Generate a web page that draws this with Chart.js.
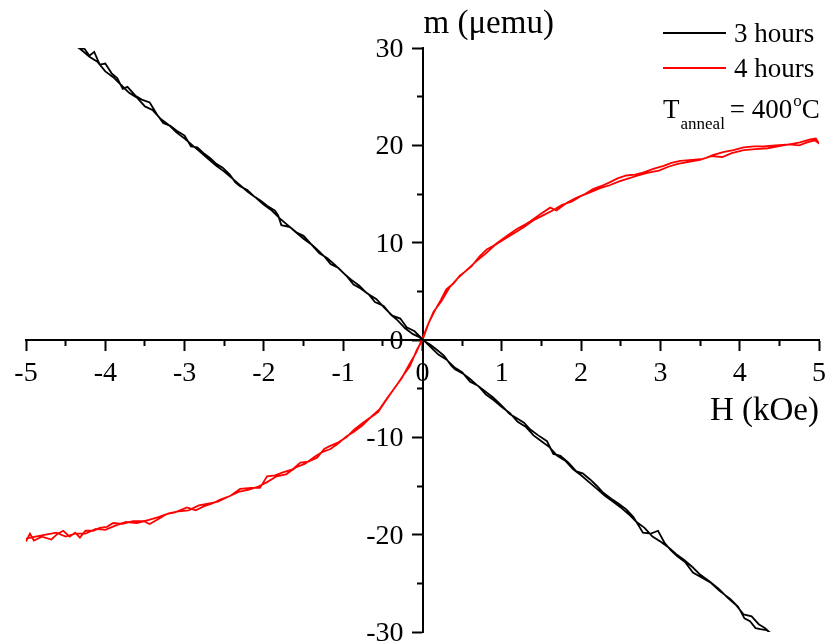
<!DOCTYPE html>
<html>
<head>
<meta charset="utf-8">
<script src="https://cdn.jsdelivr.net/npm/chart.js@4"></script>
<style>
html,body{margin:0;padding:0;background:#fff;}
#wrap{width:825px;height:644px;position:relative;}
</style>
</head>
<body>
<div id="wrap"><canvas id="c"></canvas></div>
<script>
// ---- data ----
const seriesNames = ['3 hours', '4 hours'];
const xTicks = [-5, -4, -3, -2, -1, 0, 1, 2, 3, 4, 5];
const yTicks = [-30, -20, -10, 0, 10, 20, 30];

// 3 hours: field sweep out and back (H in kOe)
const h3 = [-4.40,-4.33,-4.26,-4.20,-4.14,-4.07,-4.00,-3.92,-3.85,-3.78,-3.72,-3.62,-3.54,-3.44,-3.35,-3.27,-3.18,-3.10,-3.00,-2.92,-2.84,-2.76,-2.68,-2.60,-2.52,-2.43,-2.36,-2.30,-2.21,-2.13,-2.04,-1.96,-1.86,-1.82,-1.78,-1.67,-1.58,-1.50,-1.41,-1.33,-1.24,-1.16,-1.06,-0.96,-0.87,-0.78,-0.68,-0.60,-0.49,-0.40,-0.31,-0.22,-0.12,-0.04,0.00,0.10,0.18,0.27,0.36,0.41,0.50,0.60,0.68,0.78,0.89,0.98,1.10,1.20,1.28,1.36,1.46,1.57,1.65,1.74,1.84,1.94,2.02,2.11,2.20,2.28,2.38,2.47,2.57,2.66,2.78,2.88,2.97,3.05,3.13,3.21,3.31,3.41,3.52,3.63,3.75,3.88,3.98,4.06,4.13,4.20,4.26,4.34,4.40,
  4.32,4.24,4.15,4.05,3.95,3.85,3.74,3.62,3.50,3.40,3.30,3.20,3.10,3.00,2.90,2.80,2.70,2.60,2.50,2.40,2.30,2.20,2.10,2.00,1.90,1.80,1.70,1.60,1.50,1.40,1.30,1.20,1.10,1.00,0.90,0.80,0.70,0.60,0.50,0.40,0.30,0.20,0.10,0.00,-0.10,-0.20,-0.28,-0.38,-0.48,-0.58,-0.70,-0.80,-0.90,-1.00,-1.10,-1.20,-1.30,-1.40,-1.50,-1.60,-1.70,-1.80,-1.90,-2.00,-2.10,-2.20,-2.30,-2.40,-2.50,-2.60,-2.70,-2.80,-2.90,-3.00,-3.10,-3.20,-3.30,-3.40,-3.50,-3.60,-3.70,-3.80,-3.90,-4.00,-4.10,-4.20,-4.30,-4.40];
const m3 = [30.3,30.0,29.9,29.2,29.6,28.3,28.4,27.4,26.9,25.8,26.0,25.1,24.7,24.4,23.2,22.3,22.0,21.5,21.0,19.9,19.8,19.2,18.7,18.1,17.7,17.0,16.2,15.8,15.4,14.8,14.3,13.8,13.3,12.8,11.8,11.6,11.0,10.7,9.9,9.3,8.6,7.8,7.4,6.6,5.7,5.3,4.7,3.9,3.5,2.6,2.0,1.2,0.6,0.3,0.0,-0.5,-1.0,-1.6,-2.6,-3.0,-3.4,-4.0,-4.6,-5.2,-5.9,-6.6,-7.6,-8.1,-8.5,-9.2,-9.8,-10.4,-11.7,-11.9,-12.6,-13.5,-13.7,-14.3,-15.0,-15.7,-16.3,-16.8,-17.4,-18.2,-19.8,-19.9,-19.6,-20.8,-21.6,-22.2,-22.8,-23.9,-24.4,-24.9,-25.8,-26.6,-27.4,-28.6,-28.9,-29.6,-29.7,-29.8,-30.2,
  -29.6,-29.2,-28.4,-28.2,-27.2,-26.5,-25.6,-24.8,-24.1,-23.3,-22.6,-22.0,-21.3,-20.7,-20.2,-19.3,-18.7,-17.9,-17.2,-16.6,-16.0,-15.3,-14.6,-13.9,-13.3,-12.4,-11.9,-11.0,-10.4,-9.8,-8.9,-8.4,-7.5,-6.9,-6.2,-5.6,-4.7,-4.3,-3.3,-2.8,-2.0,-1.5,-0.7,0.1,0.9,1.3,2.2,2.5,3.3,4.2,4.8,5.6,6.2,6.9,7.7,8.4,8.9,9.8,10.4,11.1,11.8,12.5,13.3,13.9,14.6,15.2,15.9,16.6,17.3,17.9,18.6,19.3,20.0,20.7,21.3,22.1,22.7,23.6,24.0,24.9,25.4,26.2,27.0,27.6,28.6,29.1,29.8,30.4];

// 4 hours: field sweep out and back (H in kOe)
const h4 = [-5.00,-4.95,-4.90,-4.80,-4.68,-4.60,-4.53,-4.45,-4.38,-4.32,-4.25,-4.15,-4.07,-3.98,-3.90,-3.78,-3.65,-3.52,-3.44,-3.33,-3.23,-3.12,-2.97,-2.86,-2.76,-2.65,-2.55,-2.42,-2.30,-2.16,-2.05,-1.96,-1.86,-1.76,-1.64,-1.54,-1.44,-1.33,-1.24,-1.17,-1.06,-0.96,-0.86,-0.75,-0.65,-0.54,-0.44,-0.33,-0.24,-0.16,-0.07,0.00,0.08,0.16,0.23,0.30,0.39,0.47,0.55,0.62,0.72,0.81,0.90,0.98,1.08,1.19,1.28,1.36,1.48,1.61,1.69,1.82,1.94,2.05,2.15,2.25,2.36,2.46,2.57,2.68,2.78,2.92,3.04,3.14,3.25,3.40,3.54,3.66,3.79,3.92,4.05,4.18,4.30,4.45,4.63,4.76,4.89,4.96,5.00,
  4.95,4.85,4.75,4.62,4.48,4.35,4.20,4.05,3.90,3.78,3.64,3.50,3.36,3.22,3.10,2.98,2.85,2.72,2.60,2.48,2.36,2.24,2.12,2.00,1.88,1.76,1.64,1.52,1.40,1.28,1.16,1.04,0.92,0.80,0.68,0.56,0.44,0.34,0.24,0.14,0.06,0.00,-0.08,-0.16,-0.26,-0.36,-0.46,-0.56,-0.66,-0.76,-0.86,-0.96,-1.06,-1.16,-1.26,-1.36,-1.48,-1.60,-1.72,-1.84,-1.96,-2.08,-2.20,-2.32,-2.45,-2.58,-2.70,-2.82,-2.95,-3.08,-3.20,-3.33,-3.46,-3.60,-3.74,-3.88,-4.00,-4.12,-4.25,-4.38,-4.50,-4.62,-4.75,-4.88,-5.00];
const m4 = [-20.7,-19.9,-20.6,-20.2,-20.5,-19.9,-19.6,-20.2,-19.8,-20.3,-19.6,-19.6,-19.3,-19.2,-18.8,-18.9,-18.6,-18.6,-18.9,-18.4,-17.9,-17.7,-17.2,-17.5,-17.1,-16.8,-16.4,-16.0,-15.3,-15.2,-15.2,-14.0,-13.9,-13.6,-13.3,-12.6,-12.5,-12.1,-11.2,-10.9,-10.5,-10.0,-9.2,-8.5,-7.9,-7.1,-5.9,-4.7,-3.6,-2.7,-1.0,0.0,1.8,3.1,4.1,5.2,5.8,6.6,7.1,7.6,8.6,9.3,9.7,10.2,10.8,11.4,11.8,12.2,12.9,13.6,13.3,14.1,14.6,15.0,15.5,15.8,16.2,16.6,16.9,17.0,17.2,17.6,17.9,18.2,18.4,18.5,18.6,19.0,19.3,19.5,19.8,19.9,19.9,20.0,20.1,20.3,20.6,20.7,20.2,
  20.5,20.3,20.0,20.1,19.9,19.7,19.6,19.5,19.2,18.8,18.9,18.5,18.3,18.1,17.8,17.4,17.2,16.9,16.6,16.3,15.9,15.6,15.2,14.8,14.2,13.9,13.3,12.8,12.3,11.6,11.0,10.4,9.8,8.9,8.1,7.2,6.3,5.4,4.0,2.9,1.4,0.2,-1.3,-2.4,-3.9,-5.0,-6.2,-7.4,-8.0,-8.8,-9.4,-9.9,-10.6,-11.2,-11.5,-12.0,-12.7,-13.1,-13.8,-14.0,-14.6,-15.1,-15.4,-15.6,-16.1,-16.6,-16.8,-17.0,-17.5,-17.6,-17.8,-18.2,-18.5,-18.8,-18.7,-19.1,-19.5,-19.4,-19.9,-19.9,-20.2,-19.8,-20.0,-20.2,-20.4];

const seriesColors = ['#000000', '#ff0000'];
const FONT = "'Liberation Serif', 'Times New Roman', serif";

function pts(hs, ms){ return hs.map((h,i)=>({x:h, y:ms[i]})); }

const overlay = {
  id: 'overlay',
  afterDraw(chart){
    const ctx = chart.ctx;
    const xs = chart.scales.x, ys = chart.scales.y;
    const ax = xs.getPixelForValue(0), ay = ys.getPixelForValue(0);
    ctx.save();
    ctx.fillStyle = '#000';
    ctx.textBaseline = 'alphabetic';
    // tick labels
    ctx.font = '28px ' + FONT;
    ctx.textAlign = 'center';
    xTicks.forEach(v => ctx.fillText(String(v), xs.getPixelForValue(v), ay + 41));
    ctx.textAlign = 'right';
    yTicks.forEach(v => ctx.fillText(String(v), ax - 19, ys.getPixelForValue(v) + 9));
    // axis titles
    ctx.font = '33px ' + FONT;
    ctx.textAlign = 'left';
    ctx.fillText('m (\u03bcemu)', ax + 1, 33);
    ctx.textAlign = 'right';
    ctx.fillText('H (kOe)', 819, 420);
    // legend
    ctx.font = '27px ' + FONT;
    ctx.textAlign = 'left';
    const rows = [33, 68];
    seriesNames.forEach((n, i) => {
      ctx.strokeStyle = seriesColors[i];
      ctx.lineWidth = 1.8;
      ctx.beginPath(); ctx.moveTo(663, rows[i]); ctx.lineTo(726, rows[i]); ctx.stroke();
      ctx.fillText(n, 734, rows[i] + 9);
    });
    // annotation
    let x = 663; const base = 118;
    ctx.font = '27px ' + FONT;
    ctx.fillText('T', x, base); x += ctx.measureText('T').width + 1;
    ctx.font = '17px ' + FONT;
    ctx.fillText('anneal', x, base + 11); x += ctx.measureText('anneal').width + 5;
    ctx.font = '27px ' + FONT;
    ctx.fillText('= 400', x, base); x += ctx.measureText('= 400').width + 1;
    ctx.font = '17px ' + FONT;
    ctx.fillText('o', x, base - 12); x += ctx.measureText('o').width;
    ctx.font = '27px ' + FONT;
    ctx.fillText('C', x, base);
    ctx.restore();
  }
};

const majorTick = (vals) => function(scale){ scale.ticks = vals.map(v => ({value: v})); };
const minorTick = (vals) => function(scale){
  const out = [];
  for (let i = 0; i < vals.length - 1; i++) out.push({value: (vals[i] + vals[i+1]) / 2});
  scale.ticks = out;
};

new Chart(document.getElementById('c'), {
  type: 'scatter',
  data: {
    datasets: [
      { label: seriesNames[0], data: pts(h3, m3), showLine: true, borderColor: seriesColors[0], borderWidth: 1.8, pointRadius: 0, tension: 0 },
      { label: seriesNames[1], data: pts(h4, m4), showLine: true, borderColor: seriesColors[1], borderWidth: 1.8, pointRadius: 0, tension: 0 }
    ]
  },
  options: {
    responsive: true,
    maintainAspectRatio: false,
    animation: false,
    layout: { padding: { left: 26, right: 6, top: 48, bottom: 12 } },
    plugins: { legend: { display: false }, tooltip: { enabled: false } },
    scales: {
      xm: {
        type: 'linear', axis: 'x', position: { y: 0 }, min: -5, max: 5,
        afterBuildTicks: minorTick(xTicks),
        grid: { drawOnChartArea: false, tickLength: 5, tickWidth: 2, color: '#000' },
        border: { color: '#000', width: 2 },
        ticks: { display: false }
      },
      ym: {
        type: 'linear', axis: 'y', position: { x: 0 }, min: -30, max: 30,
        afterBuildTicks: minorTick(yTicks),
        grid: { drawOnChartArea: false, tickLength: 5, tickWidth: 2, color: '#000' },
        border: { color: '#000', width: 2 },
        ticks: { display: false }
      },
      x: {
        type: 'linear', position: { y: 0 }, min: -5, max: 5,
        afterBuildTicks: majorTick(xTicks),
        grid: { drawOnChartArea: false, tickLength: 10, tickWidth: 2, color: '#000' },
        border: { color: '#000', width: 2 },
        ticks: { display: false }
      },
      y: {
        type: 'linear', position: { x: 0 }, min: -30, max: 30,
        afterBuildTicks: majorTick(yTicks),
        grid: { drawOnChartArea: false, tickLength: 10, tickWidth: 2, color: '#000' },
        border: { color: '#000', width: 2 },
        ticks: { display: false }
      }
    }
  },
  plugins: [overlay]
});
</script>
</body>
</html>
